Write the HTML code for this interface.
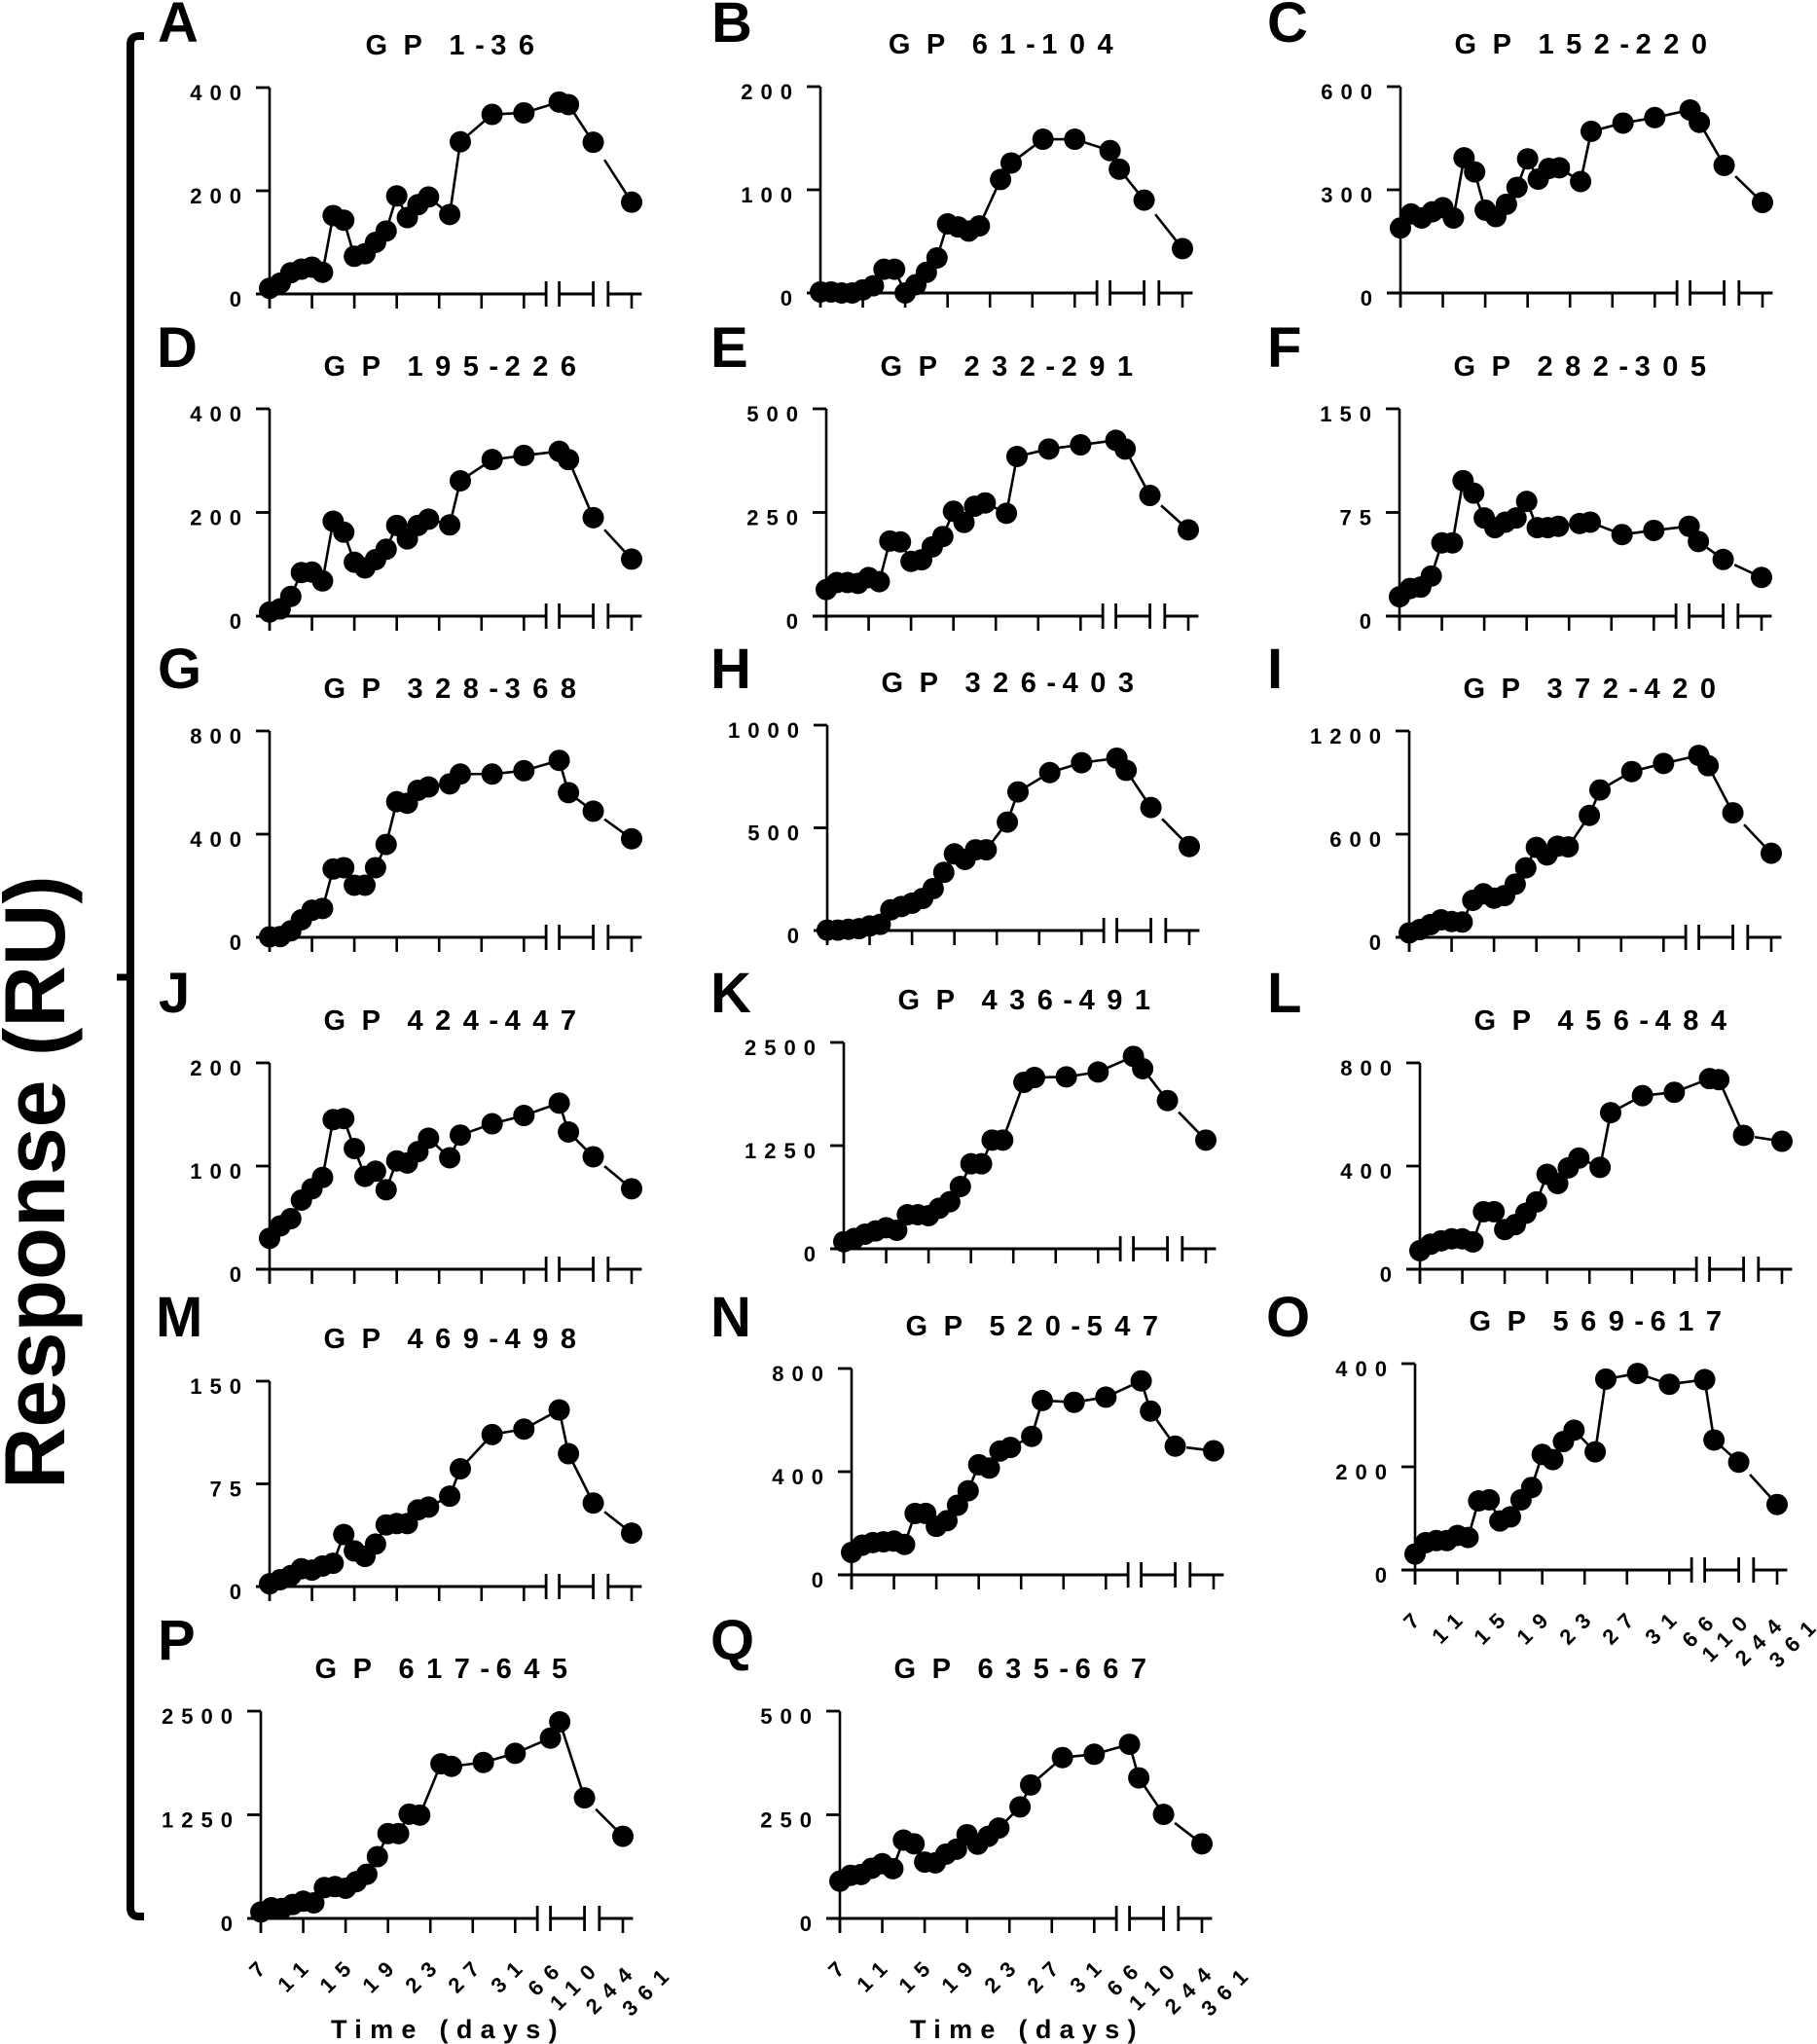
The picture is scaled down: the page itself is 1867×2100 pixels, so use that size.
<!DOCTYPE html>
<html lang="en">
<head>
<meta charset="utf-8">
<title>GP peptide response panels</title>
<style>
html,body{margin:0;padding:0;background:#fff;}
svg{display:block;}
text{font-family:"Liberation Sans",Arial,sans-serif;font-weight:bold;fill:#000;}
</style>
</head>
<body>
<svg id="figure" xmlns="http://www.w3.org/2000/svg" width="1867" height="2100" viewBox="0 0 1867 2100">
  <rect width="1867" height="2100" fill="#fff"/>
  <text transform="translate(66,1530) rotate(-90)" font-size="88">Response (RU)</text>
  <path d="M148 37H143Q134 37 134 46V1960Q134 1969 143 1969H148" fill="none" stroke="#000" stroke-width="8"/>
  <line x1="120" y1="1004" x2="134" y2="1004" stroke="#000" stroke-width="7"/>
</svg>
<script>
const days = [7,8,9,10,11,12,13,14,15,16,17,18,19,20,21,22,24,25,28,31,66,78,110,244];
const tickDays = [7,11,15,19,23,27,31];
const xTickLabels = ['7','11','15','19','23','27','31','66','110','244','361'];

const seriesA = [11,21,41,48,52,42,152,143,73,78,100,122,190,148,173,188,154,295,348,351,372,367,294,178];
const seriesB = [1,1,0,0,3,7,23,23,0,8,20,34,67,64,60,65,110,126,149,149,138,120,90,43];
const seriesC = [189,230,218,236,248,218,393,352,241,222,258,307,390,331,362,364,324,470,494,510,532,496,371,263];
const seriesD = [8,14,38,84,85,68,183,162,104,93,109,129,175,149,175,187,176,261,302,310,318,302,190,110];
const seriesE = [64,81,81,79,93,83,181,179,132,136,167,192,253,226,265,273,248,385,403,413,424,403,291,208];
const seriesF = [14,20,21,29,53,53,98,89,71,64,68,71,83,64,64,65,67,68,59,62,65,54,41,28];
const seriesG = [2,3,25,68,105,112,265,270,202,202,270,360,526,520,570,583,595,633,633,646,686,561,489,382];
const seriesH = [2,2,6,9,22,30,101,117,133,156,204,283,373,346,393,393,528,675,769,817,839,780,599,409];
const seriesI = [26,45,74,102,92,89,215,253,228,243,309,404,523,479,530,526,709,857,964,1011,1058,998,724,489];
const seriesJ = [30,42,49,67,78,89,145,146,117,90,95,77,105,103,114,127,108,130,141,149,161,133,109,78];
const seriesK = [86,126,177,216,255,224,413,413,401,491,570,755,1030,1030,1317,1317,2017,2075,2083,2142,2331,2182,1796,1317];
const seriesL = [72,97,110,118,118,106,223,223,154,173,217,261,368,332,393,431,395,607,673,686,739,735,519,496];
const seriesM = [2,5,8,13,12,15,17,38,26,22,31,45,46,46,56,58,66,86,111,115,129,97,61,39];
const seriesN = [87,115,125,128,131,118,238,238,188,210,270,326,427,414,480,494,537,676,669,689,752,635,499,481];
const seriesO = [31,53,57,57,67,63,134,136,95,103,136,160,224,214,249,271,229,370,381,360,369,252,209,127];
const seriesP = [78,129,121,168,208,188,372,384,364,443,533,745,1023,1023,1258,1246,1865,1834,1881,1991,2175,2371,1454,991];
const seriesQ = [90,104,106,121,132,120,189,180,136,134,155,167,202,179,198,218,269,322,388,396,420,339,251,180];

const ticksA = [0,200,400];
const ticksB = [0,100,200];
const ticksC = [0,300,600];
const ticksD = [0,200,400];
const ticksE = [0,250,500];
const ticksF = [0,75,150];
const ticksG = [0,400,800];
const ticksH = [0,500,1000];
const ticksI = [0,600,1200];
const ticksJ = [0,100,200];
const ticksK = [0,1250,2500];
const ticksL = [0,400,800];
const ticksM = [0,75,150];
const ticksN = [0,400,800];
const ticksO = [0,200,400];
const ticksP = [0,1250,2500];
const ticksQ = [0,250,500];

const panels = [
 {id:'A',range:'1-36',   s:seriesA,t:ticksA,x0:277,top:90,  base:302, lx:162, ly:43},
 {id:'B',range:'61-104', s:seriesB,t:ticksB,x0:843,top:89,  base:301, lx:731, ly:43},
 {id:'C',range:'152-220',s:seriesC,t:ticksC,x0:1439,top:89, base:301, lx:1302,ly:43},
 {id:'D',range:'195-226',s:seriesD,t:ticksD,x0:277,top:420, base:633, lx:161, ly:377},
 {id:'E',range:'232-291',s:seriesE,t:ticksE,x0:849,top:420, base:633, lx:730, ly:377},
 {id:'F',range:'282-305',s:seriesF,t:ticksF,x0:1438,top:420,base:633, lx:1302,ly:377},
 {id:'G',range:'328-368',s:seriesG,t:ticksG,x0:277,top:751, base:963, lx:162, ly:707},
 {id:'H',range:'326-403',s:seriesH,t:ticksH,x0:850,top:745, base:956, lx:730, ly:707},
 {id:'I',range:'372-420',s:seriesI,t:ticksI,x0:1448,top:751,base:963, lx:1302,ly:707},
 {id:'J',range:'424-447',s:seriesJ,t:ticksJ,x0:277,top:1092,base:1304,lx:163, ly:1040},
 {id:'K',range:'436-491',s:seriesK,t:ticksK,x0:867,top:1071,base:1283,lx:730, ly:1040},
 {id:'L',range:'456-484',s:seriesL,t:ticksL,x0:1459,top:1092,base:1304,lx:1302,ly:1040},
 {id:'M',range:'469-498',s:seriesM,t:ticksM,x0:277,top:1419,base:1630,lx:160, ly:1373},
 {id:'N',range:'520-547',s:seriesN,t:ticksN,x0:875,top:1406,base:1618,lx:730, ly:1373},
 {id:'O',range:'569-617',s:seriesO,t:ticksO,x0:1454,top:1401,base:1613,lx:1301,ly:1373,labels:true,labelGap:35},
 {id:'P',range:'617-645',s:seriesP,t:ticksP,x0:268,top:1758,base:1971,lx:162, ly:1705,labels:true,labelGap:37.5,time:true},
 {id:'Q',range:'635-667',s:seriesQ,t:ticksQ,x0:863,top:1758,base:1971,lx:730, ly:1705,labels:true,labelGap:37.5,time:true}
];

const NS = 'http://www.w3.org/2000/svg';
const figure = document.getElementById('figure');
const AXIS_W = 372;
const DAY_FRAC = 0.02927;
const BREAKS = [0.7638, 0.80, 0.894, 0.935];
const LINE_RESUME = 0.925;
const LABEL_DROP = [46.5,46.5,46.5,46.5,46.5,46.5,46.5,49.5,49.5,52.5,54.5];

function frac(day){
  if(day <= 33.1) return (day-7)*DAY_FRAC;
  if(day <= 110) return 0.80 + (day-66)*(0.894-0.80)/44;
  return 1;
}
function make(tag, attrs, parent){
  const n = document.createElementNS(NS, tag);
  for(const k in attrs) n.setAttribute(k, attrs[k]);
  parent.appendChild(n);
  return n;
}

panels.forEach(function(p){
  const key = p.id.toLowerCase();
  const yMax = p.t[p.t.length-1];
  const xs = function(d){ return p.x0 + frac(d)*AXIS_W; };
  const ys = function(v){ return p.base - v/yMax*(p.base-p.top); };

  const g = make('g', {}, figure);
  
  

  const letter = make('text', {x:p.lx, y:p.ly, 'font-size':58}, g);
  letter.textContent = p.id;
  
  

  const title = make('text', {x:p.x0+191.5, y:p.top-34, 'font-size':29, 'letter-spacing':12.5, 'text-anchor':'middle'}, g);
  
  
  const parts = p.range.split('-');
  make('tspan', {}, title).textContent = 'G';
  make('tspan', {dx:4}, title).textContent = 'P';
  make('tspan', {dx:-5}, title).textContent = ' ' + parts[0];
  make('tspan', {dx:-2}, title).textContent = '-';
  make('tspan', {dx:-6}, title).textContent = parts[1];

  const yAxis = make('line', {x1:p.x0, y1:p.top, x2:p.x0, y2:p.base+14, stroke:'#000', 'stroke-width':2.6}, g);
  
  

  p.t.forEach(function(v){
    const tk = make('line', {x1:p.x0-14, y1:ys(v), x2:p.x0, y2:ys(v), stroke:'#000', 'stroke-width':2.8}, g);
    
    
    const lb = make('text', {x:p.x0-21, y:ys(v)+13, 'font-size':22, 'letter-spacing':8, 'text-anchor':'end'}, g);
    lb.textContent = String(v);
    
    
  });

  const segs = [[-14/AXIS_W, BREAKS[0]], [BREAKS[1], BREAKS[2]], [BREAKS[3], 1.028]];
  segs.forEach(function(sg){
    const ax = make('line', {x1:p.x0+sg[0]*AXIS_W, y1:p.base, x2:p.x0+sg[1]*AXIS_W, y2:p.base, stroke:'#000', 'stroke-width':3}, g);
    
    
  });
  BREAKS.forEach(function(b){
    const br = make('line', {x1:p.x0+b*AXIS_W, y1:p.base-13, x2:p.x0+b*AXIS_W, y2:p.base+13, stroke:'#000', 'stroke-width':2.8}, g);
    
    
  });
  tickDays.concat([244]).forEach(function(d){
    const tx = make('line', {x1:xs(d), y1:p.base, x2:xs(d), y2:p.base+15, stroke:'#000', 'stroke-width':2.6}, g);
    
    
  });

  for(let i=0;i<days.length-1;i++){
    let x1 = xs(days[i]), y1 = ys(p.s[i]);
    const x2 = xs(days[i+1]), y2 = ys(p.s[i+1]);
    if(days[i] === 110){
      const cut = p.x0 + LINE_RESUME*AXIS_W;
      y1 = y1 + (y2-y1)*(cut-x1)/(x2-x1);
      x1 = cut;
    }
    const ln = make('line', {x1:x1, y1:y1, x2:x2, y2:y2, stroke:'#000', 'stroke-width':2.6}, g);
    
    
  }
  p.s.forEach(function(v,i){
    const c = make('circle', {cx:xs(days[i]), cy:ys(v), r:11, fill:'#000'}, g);
    
    
  });

  if(p.labels){
    xTickLabels.forEach(function(txt,i){
      const ax = i<7 ? p.x0+13+44*i : p.x0+315+p.labelGap*(i-7);
      const ay = p.base + LABEL_DROP[i];
      const lb = make('text', {x:ax, y:ay, 'font-size':22, 'letter-spacing':10, 'text-anchor':'end',
        transform:'rotate(-45 '+ax+' '+ay+')'}, g);
      lb.textContent = txt;
      
      
    });
  }
  if(p.time){
    const tt = make('text', {x:p.x0+72, y:2094, 'font-size':27, 'letter-spacing':8.3}, g);
    tt.textContent = 'Time (days)';
    
    
  }
});
</script>
</body>
</html>
